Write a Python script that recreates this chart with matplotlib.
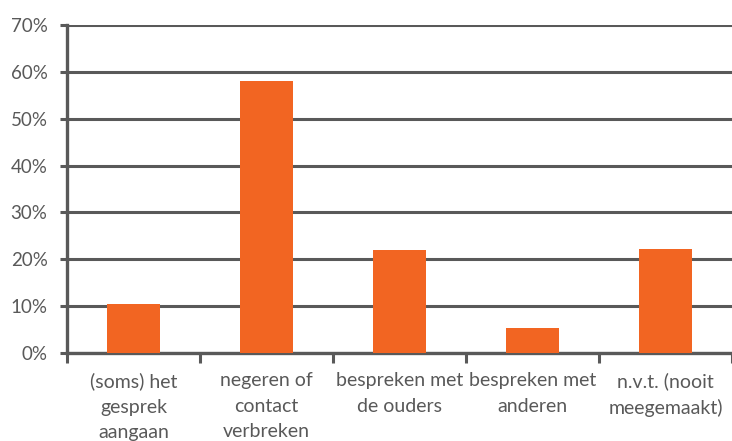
import matplotlib
matplotlib.use("Agg")
import matplotlib.pyplot as plt
from matplotlib.ticker import MultipleLocator, FuncFormatter, FixedLocator

categories = ["(soms) het\ngesprek\naangaan", "negeren of\ncontact\nverbreken",
              "bespreken met\nde ouders", "bespreken met\nanderen", "n.v.t. (nooit\nmeegemaakt)"]
values = [10.5, 58.0, 22.0, 5.3, 22.2]

plt.rcParams['font.family'] = ['Lato', 'DejaVu Sans']
gray = '#595959'
orange = '#F26522'

fig = plt.figure(figsize=(7.32, 4.41), dpi=100)
ax = fig.add_axes([67/732, 1-353/441, 1-67/732, (353-25)/441])

x = list(range(len(categories)))
ax.bar(x, values, width=0.4, color=orange, zorder=3)
ax.set_xlim(-0.5, len(categories)-0.5)
ax.set_ylim(0, 70)
ax.yaxis.set_major_locator(MultipleLocator(10))
ax.yaxis.set_major_formatter(FuncFormatter(lambda v, p: f"{int(round(v))}%"))
ax.grid(axis='y', color=gray, linewidth=2.2, zorder=0)
ax.set_axisbelow(True)

ax.xaxis.set_major_locator(FixedLocator([i - 0.5 for i in range(len(categories)+1)]))
ax.xaxis.set_major_formatter(FuncFormatter(lambda v, p: ""))
ax.xaxis.set_minor_locator(FixedLocator(x))
ax.set_xticklabels(categories, minor=True)
ax.tick_params(axis='x', which='minor', length=0, pad=14, labelsize=14, labelcolor=gray)
ax.tick_params(axis='x', which='major', length=7, width=2.2, color=gray, direction='out')
ax.tick_params(axis='y', length=5, width=2.2, color=gray, pad=9, labelsize=13.5, labelcolor=gray)
for lbl in ax.get_xticklabels(minor=True):
    lbl.set_linespacing(1.6)

for s in ['top', 'right']:
    ax.spines[s].set_visible(False)
for s in ['left', 'bottom']:
    ax.spines[s].set_color(gray)
    ax.spines[s].set_linewidth(2.4)

fig.savefig("out.png", dpi=100)
